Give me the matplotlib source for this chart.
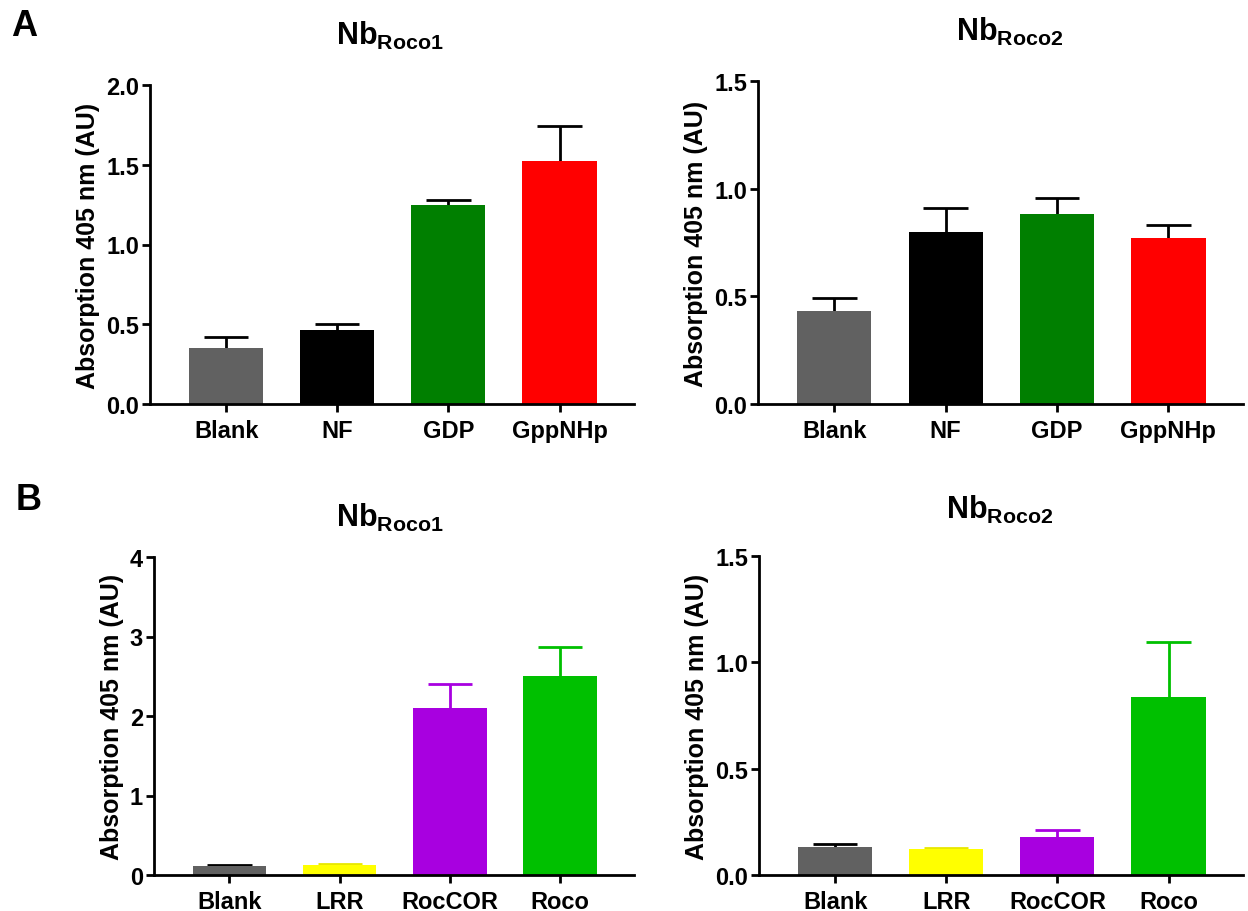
import matplotlib
matplotlib.use("Agg")
import matplotlib.pyplot as plt
import numpy as np

plt.rcParams['font.family'] = ['Liberation Sans', 'DejaVu Sans']
plt.rcParams['font.weight'] = 'bold'
plt.rcParams['mathtext.fontset'] = 'custom'
plt.rcParams['mathtext.rm'] = 'Liberation Sans:bold'
plt.rcParams['mathtext.bf'] = 'Liberation Sans:bold'
plt.rcParams['mathtext.it'] = 'Liberation Sans:bold'

# ---- data ----
cats_A = ["Blank", "NF", "GDP", "GppNHp"]
cats_B = ["Blank", "LRR", "RocCOR", "Roco"]

a1_vals = [0.351, 0.464, 1.248, 1.525]
a1_err = [0.071, 0.036, 0.029, 0.216]
a2_vals = [0.433, 0.799, 0.881, 0.769]
a2_err = [0.059, 0.109, 0.076, 0.061]
b1_vals = [0.113, 0.120, 2.100, 2.506]
b1_err = [0.013, 0.014, 0.305, 0.364]
b2_vals = [0.130, 0.122, 0.180, 0.836]
b2_err = [0.016, 0.005, 0.033, 0.258]

colors_A = ["#616161", "#000000", "#007F00", "#FF0000"]
err_colors_A = ["#000000", "#000000", "#000000", "#000000"]
colors_B = ["#616161", "#FFFF00", "#A800E0", "#00C000"]
err_colors_B = ["#000000", "#E8E800", "#A800E0", "#00C000"]

W, H = 1248, 912
fig = plt.figure(figsize=(W / 100, H / 100), dpi=100)


def make_ax(l, r, t, b):
    return fig.add_axes([l / W, 1 - b / H, (r - l) / W, (b - t) / H])


def draw(ax, cats, vals, errs, cols, ecols, ymax, ticks, ticklabels, title, tx, ty):
    x = np.arange(len(cats))
    ax.bar(x, vals, width=0.667, color=cols, edgecolor='none', zorder=2)
    for xi, v, e, ec in zip(x, vals, errs, ecols):
        ax.vlines(xi, v, v + e, colors=ec, linewidth=2, zorder=1, clip_on=False)
        ax.hlines(v + e, xi - 0.2, xi + 0.2, colors=ec, linewidth=2, zorder=1, clip_on=False)
    ax.set_xlim(-0.685, 3.67)
    ax.set_ylim(0, ymax)
    ax.set_yticks(ticks)
    ax.set_yticklabels(ticklabels)
    ax.set_xticks(x)
    ax.set_xticklabels(cats)
    for s in ['top', 'right']:
        ax.spines[s].set_visible(False)
    for s in ['left', 'bottom']:
        ax.spines[s].set_linewidth(2)
    ax.tick_params(axis='both', direction='out', length=6, width=2,
                   labelsize=17, pad=2)
    ax.tick_params(axis='x', pad=5)
    for lab in ax.get_xticklabels() + ax.get_yticklabels():
        lab.set_fontweight('bold')
    ax.set_ylabel("Absorption 405 nm (AU)", fontsize=18, fontweight='bold', labelpad=4)
    fig.text(tx / W, 1 - ty / H, title, fontsize=22, ha='center', va='center')


ax1 = make_ax(150, 634, 86, 405)
draw(ax1, cats_A, a1_vals, a1_err, colors_A, err_colors_A, 2.0,
     [0, 0.5, 1.0, 1.5, 2.0], ["0.0", "0.5", "1.0", "1.5", "2.0"],
     r"$\mathregular{Nb_{Roco1}}$", 390, 36)

ax2 = make_ax(758, 1243, 82, 405)
draw(ax2, cats_A, a2_vals, a2_err, colors_A, err_colors_A, 1.5,
     [0, 0.5, 1.0, 1.5], ["0.0", "0.5", "1.0", "1.5"],
     r"$\mathregular{Nb_{Roco2}}$", 1010, 32)

ax3 = make_ax(154, 634, 558, 876)
draw(ax3, cats_B, b1_vals, b1_err, colors_B, err_colors_B, 4,
     [0, 1, 2, 3, 4], ["0", "1", "2", "3", "4"],
     r"$\mathregular{Nb_{Roco1}}$", 390, 518)

ax4 = make_ax(759, 1243, 557, 876)
draw(ax4, cats_B, b2_vals, b2_err, colors_B, err_colors_B, 1.5,
     [0, 0.5, 1.0, 1.5], ["0.0", "0.5", "1.0", "1.5"],
     r"$\mathregular{Nb_{Roco2}}$", 1000, 510)

fig.text(11 / W, 1 - 27 / H, "A", fontsize=26, fontweight='bold', ha='left', va='center')
fig.text(16 / W, 1 - 500 / H, "B", fontsize=26, fontweight='bold', ha='left', va='center')

fig.savefig("out.png", dpi=100, facecolor='white')
